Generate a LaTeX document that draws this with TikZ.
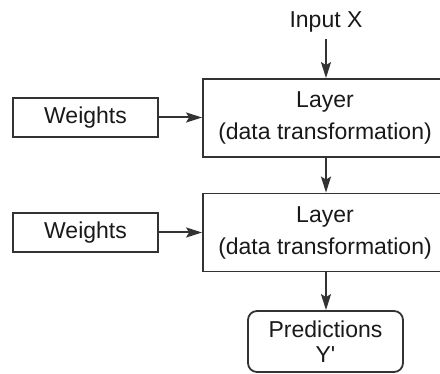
\documentclass[tikz,border=0pt]{standalone}
\usepackage{fontspec}
\setmainfont{Liberation Sans}
\usepackage{tikz}
\usetikzlibrary{arrows.meta}

\begin{document}
\begin{tikzpicture}[x=1pt,y=-1pt,
	box/.style={draw=black!80, line width=1.8pt, text=black!90, inner sep=0pt, align=center, font=\fontsize{23}{32}\selectfont},
	layerbox/.style={box, minimum width=244pt, minimum height=78pt},
	weightbox/.style={box, minimum width=145pt, minimum height=39pt},
	predbox/.style={box, rounded corners=9pt, minimum width=155pt, minimum height=61pt, font=\fontsize{23}{25}\selectfont},
	flow/.style={draw=black!80, line width=2pt, arrows={-Stealth[length=16pt,width=10pt,inset=3pt]}}]
%1. 画布大小
\useasboundingbox (0,0) rectangle (440,374);
%2. 各个方框
\node[text=black!90, font=\fontsize{23}{28}\selectfont, inner sep=0pt, outer sep=7pt] (input) at (326,22) {Input X};
\node[layerbox] (layer1) at (325,118) {Layer\\(data transformation)};
\node[layerbox] (layer2) at (325,232.5) {Layer\\(data transformation)};
\node[weightbox] (weights1) at (85.5,117.5) {Weights};
\node[weightbox] (weights2) at (85.5,232.5) {Weights};
\node[predbox] (pred) at (325.5,341.5) {Predictions\\Y\textquotesingle};
%3. 箭头
\draw[flow] (input.south) -- (input.south |- layer1.north);
\draw[flow] (layer1.south -| input.south) -- (layer2.north -| input.south);
\draw[flow] (layer2.south -| input.south) -- (pred.north -| input.south);
\draw[flow] (weights1) -- (weights1 -| layer1.west);
\draw[flow] (weights2) -- (weights2 -| layer2.west);
\end{tikzpicture}
\end{document}
